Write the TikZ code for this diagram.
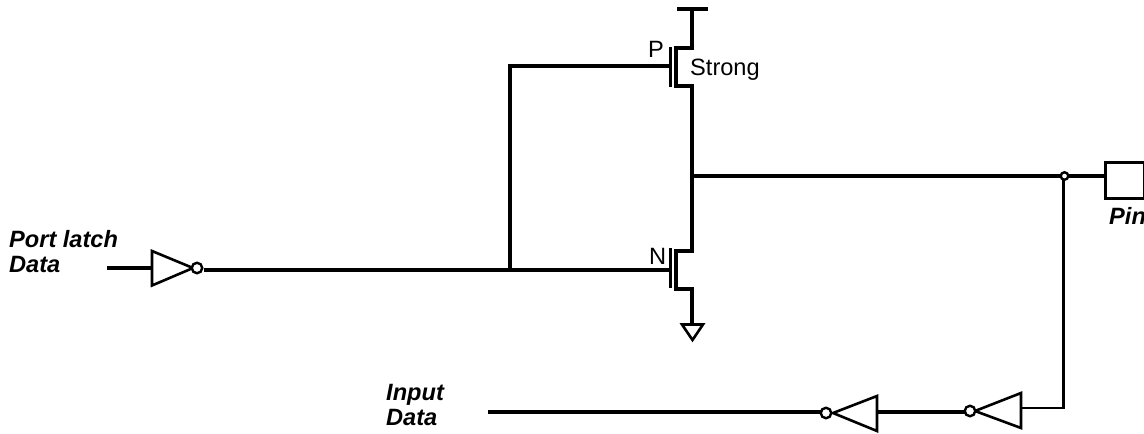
\documentclass[tikz,border=0pt]{standalone}
\usepackage{fontspec}
\setmainfont{Liberation Sans}
\tikzset{
  wire/.style={line width=3.1pt,line cap=butt,line join=miter},
  gatebody/.style={line width=2.6pt,line join=miter},
  bubble/.style={circle,draw,line width=2.4pt,inner sep=0pt,minimum size=10.5pt,fill=white},
  dotj/.style={circle,draw,line width=2.4pt,inner sep=0pt,minimum size=7.5pt,fill=white},
  lab/.style={inner sep=0pt,font=\fontsize{23.6}{26}\selectfont,anchor=base west},
  blab/.style={inner sep=0pt,font=\fontsize{23.6}{26}\selectfont\bfseries\itshape,anchor=base west}
}
\begin{document}
\begin{tikzpicture}[x=1pt,y=-1pt]
\useasboundingbox (0,0) rectangle (1144,434);
% coordinates
\coordinate (vddL) at (677,9); \coordinate (vddR) at (708,9); \coordinate (vdd) at (692,9);
\coordinate (pt) at (692,48); \coordinate (pb) at (692,86);
\coordinate (pcT) at (676,48); \coordinate (pcB) at (676,86);
\coordinate (pgT) at (670.5,47); \coordinate (pgB) at (670.5,87); \coordinate (pg) at (670.5,66);
\coordinate (nt) at (692,251); \coordinate (nb) at (692,289);
\coordinate (ncT) at (676,251); \coordinate (ncB) at (676,289);
\coordinate (ngT) at (670.5,248); \coordinate (ngB) at (670.5,288); \coordinate (ng) at (672,270);
\coordinate (mid) at (692,176);
\coordinate (j1) at (510,270); \coordinate (j1t) at (510,66);
\coordinate (g) at (692,324);
\coordinate (in1) at (107,268); \coordinate (in1b) at (152,268);
\coordinate (b1o) at (204,270);
\coordinate (pinw) at (1104,176);
\coordinate (inv3in) at (1021,408); \coordinate (corner) at (1063.5,408);
\coordinate (inv2in) at (876,412); \coordinate (b3o) at (965,412);
\coordinate (b2o) at (821,412);
\coordinate (out) at (488,412);
% inverters
\draw[gatebody] (152,251) -- (152,285.5) -- (193,268) -- cycle;
\node[bubble] (b1) at (197,268) {};
\draw[gatebody] (1021,393) -- (1021,428) -- (975,411) -- cycle;
\node[bubble] (b3) at (970,411) {};
\draw[gatebody] (877,396) -- (877,431) -- (833,413) -- cycle;
\node[bubble] (b2) at (826,413) {};
% pin
\node[draw,line width=3.1pt,inner sep=0pt,minimum width=38.5pt,minimum height=36pt,anchor=north west] (pin) at (1104,161) {};
% wires
\draw[wire] (vddL) -- (vddR);
\draw[wire] (vdd) -- (pt) -- (pcT) -- (pcB) -- (pb) -- (nt) -- (ncT) -- (ncB) -- (nb) -- (g);
\draw[wire] (pgT) -- (pgB);
\draw[wire] (ngT) -- (ngB);
\draw[wire] (pg) -- (j1t) -- (j1);
\draw[wire] (b1o) -- (ng);
\draw[wire] (in1) -- (in1b);
\draw[wire] (mid) -- (pinw);
\draw[gatebody] (1063.5,176) -- (corner) -- (inv3in);
\node[dotj] (j2) at (1064.5,176) {};
\draw[wire] (b3o) -- (inv2in);
\draw[wire] (b2o) -- (out);
\draw[gatebody] (682,324.5) -- (703,324.5) -- (692.5,340) -- cycle;
% labels
\node[lab] (lp) at (648,57) {P};
\node[lab] (ls) at (690,75) {Strong};
\node[lab] (ln) at (649,264) {N};
\node[blab] (l1) at (9,247) {Port latch};
\node[blab] (l2) at (9,272) {Data};
\node[blab] (l3) at (386,400) {Input};
\node[blab] (l4) at (386,425) {Data};
\node[blab] (l5) at (1109,224) {Pin};
\end{tikzpicture}
\end{document}
